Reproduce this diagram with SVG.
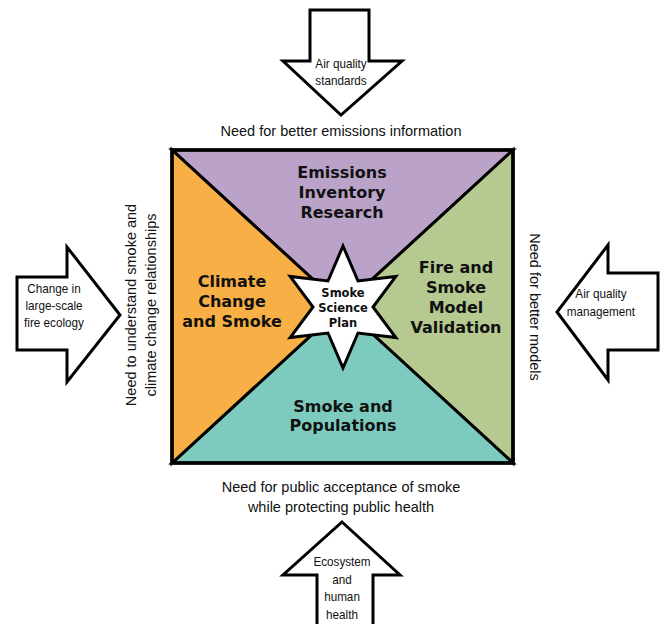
<svg xmlns="http://www.w3.org/2000/svg" width="661" height="624" viewBox="0 0 661 624">
<style>
.arrow{fill:#fff;stroke:#000;stroke-width:3;stroke-linejoin:miter}
.tri{stroke:#000;stroke-width:3;stroke-linejoin:miter}
.lbl{font-family:"Liberation Sans",Arial,sans-serif;font-size:13px;fill:#111;text-anchor:middle}
.need{font-family:"Liberation Sans",Arial,sans-serif;font-size:14.5px;fill:#111;text-anchor:middle}
.big{font-family:"DejaVu Sans",sans-serif;font-weight:bold;font-size:16px;fill:#111;text-anchor:middle}
.star{font-family:"DejaVu Sans",sans-serif;font-weight:bold;font-size:11.5px;fill:#111;text-anchor:middle}
</style>
<rect width="661" height="624" fill="#fff"/>
<g id="square">
<polygon class="tri" fill="#BBA2C8" points="172,150 513,150 342.5,306.5"/>
<polygon class="tri" fill="#B5C990" points="513,150 513,463 342.5,306.5"/>
<polygon class="tri" fill="#7DCBBE" points="513,463 172,463 342.5,306.5"/>
<polygon class="tri" fill="#F8AF45" points="172,463 172,150 342.5,306.5"/>
<rect x="172" y="150" width="341" height="313" fill="none" stroke="#000" stroke-width="3.5"/>
</g>
<g id="emissions">
<text class="big" x="342" y="178">Emissions</text>
<text class="big" x="342" y="198">Inventory</text>
<text class="big" x="342" y="218">Research</text>
</g>
<g id="climate">
<text class="big" x="232" y="287">Climate</text>
<text class="big" x="232" y="307">Change</text>
<text class="big" x="232" y="327">and Smoke</text>
</g>
<g id="validation">
<text class="big" x="456" y="273">Fire and</text>
<text class="big" x="456" y="293">Smoke</text>
<text class="big" x="456" y="313">Model</text>
<text class="big" x="456" y="333">Validation</text>
</g>
<g id="populations">
<text class="big" x="343" y="412">Smoke and</text>
<text class="big" x="343" y="431">Populations</text>
</g>
<g id="plan">
<polygon fill="#fff" stroke="#000" stroke-width="3" points="343,246 358,281 395.8,276.5 373,307 395.8,337.5 358,333 343,368 328,333 290.2,337.5 313,307 290.2,276.5 328,281"/>
<text class="star" x="343" y="297">Smoke</text>
<text class="star" x="343" y="312">Science</text>
<text class="star" x="343" y="327">Plan</text>
</g>
<g id="arrow-top">
<path class="arrow" d="M310,10 H369 V61 H402 L341,115 L283,61 H310 Z"/>
<text class="lbl" transform="translate(341,68) scale(0.9,1)">Air quality</text>
<text class="lbl" transform="translate(341,85) scale(0.9,1)">standards</text>
</g>
<g id="arrow-left">
<path class="arrow" d="M17,277 H67 V247 L120,315 L67,382 V350 H17 Z"/>
<text class="lbl" transform="translate(54,293) scale(0.9,1)">Change in</text>
<text class="lbl" transform="translate(54,310) scale(0.9,1)">large-scale</text>
<text class="lbl" transform="translate(54,327) scale(0.9,1)">fire ecology</text>
</g>
<g id="arrow-right">
<path class="arrow" d="M658,273 H608 V245 L557,312 L608,380 V350 H658 Z"/>
<text class="lbl" transform="translate(601,298) scale(0.9,1)">Air quality</text>
<text class="lbl" transform="translate(601,316) scale(0.9,1)">management</text>
</g>
<g id="arrow-bottom">
<path class="arrow" d="M342,522 L400,575 H373 V628 H317 V575 H283 Z"/>
<text class="lbl" transform="translate(342,566) scale(0.9,1)">Ecosystem</text>
<text class="lbl" transform="translate(342,584) scale(0.9,1)">and</text>
<text class="lbl" transform="translate(342,601) scale(0.9,1)">human</text>
<text class="lbl" transform="translate(342,619) scale(0.9,1)">health</text>
</g>
<g id="needs">
<text class="need" x="341" y="136">Need for better emissions information</text>
<text class="need" x="341" y="492">Need for public acceptance of smoke</text>
<text class="need" x="341" y="512">while protecting public health</text>
<text class="need" transform="translate(136,305) rotate(-90)">Need to understand smoke and</text>
<text class="need" transform="translate(156,305) rotate(-90)">climate change relationships</text>
<text class="need" transform="translate(530,307) rotate(90)">Need for better models</text>
</g>
</svg>
